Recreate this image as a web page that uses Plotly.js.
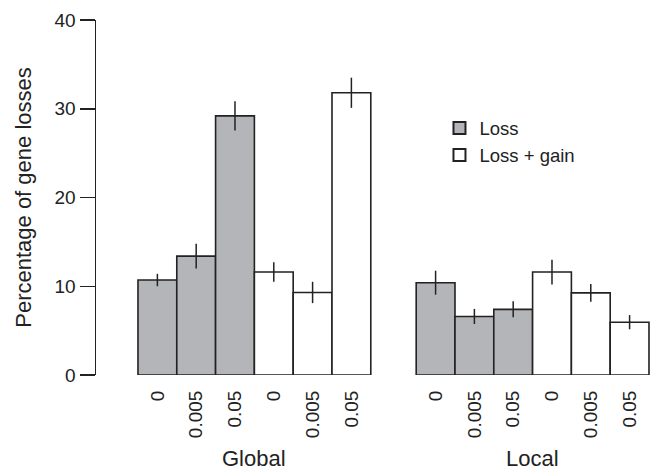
<!DOCTYPE html>
<html>
<head>
<meta charset="utf-8">
<script src="https://cdn.plot.ly/plotly-3.0.1.min.js"></script>
<style>html,body{margin:0;padding:0;background:#fff;}#chart{width:653px;height:471px;}</style>
</head>
<body>
<div id="chart"></div>
<script>
// ---- data ----
const rateLabels = ["0", "0.005", "0.05"];
const groupNames = ["Global", "Local"];
const seriesNames = ["Loss", "Loss + gain"];

const globalLoss = [10.7, 13.4, 29.2];
const globalLossErr = [0.7, 1.4, 1.65];
const globalLossGain = [11.6, 9.3, 31.8];
const globalLossGainErr = [1.1, 1.2, 1.7];

const localLoss = [10.4, 6.6, 7.4];
const localLossErr = [1.35, 0.85, 0.9];
const localLossGain = [11.6, 9.25, 5.95];
const localLossGainErr = [1.4, 1.0, 0.8];

const yTicks = [0, 10, 20, 30, 40];

// ---- layout helpers (positions computed, not data) ----
const groupOffset = 7.17;   // start of second group in bar widths
const pos = (g, s, i) => g * groupOffset + s * 3 + i;

const ink = "#222222";
const font = "Liberation Sans, Arial, sans-serif";

function barTrace(name, s, vals, errs, fill) {
  const x = [], y = [], e = [];
  vals.forEach((v, g) => v.forEach((val, i) => {
    x.push(pos(g, s, i)); y.push(val); e.push(errs[g][i]);
  }));
  return {
    type: "bar", name: name, x: x, y: y, width: 1,
    marker: {color: fill, line: {color: ink, width: 1.6}},
    error_y: {type: "data", array: e, visible: true, width: 0, thickness: 1.5, color: ink},
    hoverinfo: "skip"
  };
}

const traces = [
  barTrace(seriesNames[0], 0, [globalLoss, localLoss], [globalLossErr, localLossErr], "#b4b5b8"),
  barTrace(seriesNames[1], 1, [globalLossGain, localLossGain], [globalLossGainErr, localLossGainErr], "#ffffff")
];

const tickvals = [], ticktext = [];
for (let g = 0; g < 2; g++) for (let s = 0; s < 2; s++) for (let i = 0; i < 3; i++) {
  tickvals.push(pos(g, s, i)); ticktext.push(rateLabels[i]);
}

const layout = {
  width: 653, height: 471,
  margin: {l: 96, r: 3, t: 20, b: 96},
  paper_bgcolor: "#fff", plot_bgcolor: "#fff",
  font: {family: font, color: ink},
  barmode: "overlay",
  showlegend: true,
  legend: {
    x: 0.62, y: 0.748, xanchor: "left", yanchor: "top",
    font: {size: 18.5, family: font, color: ink},
    bgcolor: "rgba(0,0,0,0)", traceorder: "normal", tracegroupgap: 0,
    itemsizing: "constant"
  },
  xaxis: {
    range: [-1.582, 12.696], showgrid: false, zeroline: false, showline: false,
    tickmode: "array", tickvals: tickvals, ticktext: ticktext,
    tickangle: -90, ticks: "outside", ticklen: 7, tickcolor: "rgba(0,0,0,0)",
    tickfont: {size: 19, family: font, color: ink},
    fixedrange: true
  },
  yaxis: {
    range: [0, 40], showgrid: false, zeroline: false,
    showline: true, linecolor: ink, linewidth: 1.5,
    ticks: "outside", ticklen: 15, tickwidth: 1.5, tickcolor: ink,
    tickvals: yTicks, tickfont: {size: 19, family: font, color: ink},
    title: {text: "Percentage of gene losses", font: {size: 22, family: font, color: ink}, standoff: 17},
    fixedrange: true
  },
  annotations: groupNames.map((n, g) => ({
    text: n, xref: "x", yref: "paper", x: pos(g, 0, 0) + 2.5, y: -0.235,
    xanchor: "center", yanchor: "middle", showarrow: false,
    font: {size: 22, family: font, color: ink}
  }))
};

Plotly.newPlot("chart", traces, layout, {staticPlot: true, displayModeBar: false});
</script>
</body>
</html>
